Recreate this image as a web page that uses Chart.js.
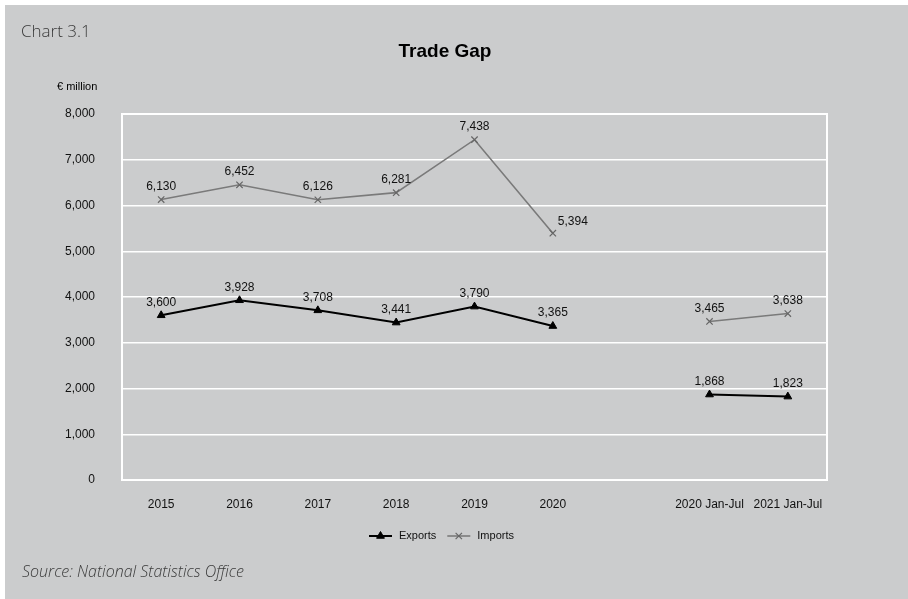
<!DOCTYPE html>
<html>
<head>
<meta charset="utf-8">
<title>Trade Gap</title>
<script src="https://cdn.jsdelivr.net/npm/chart.js@4/dist/chart.umd.min.js"></script>
<style>
  html, body { margin: 0; background: #cbcccd; overflow: hidden; }
  /* thin white edge along the top and left of the panel */
  .edge-top { position: absolute; left: 0; top: 0; width: 100%; height: 5px; background: #fff; }
  .edge-left { position: absolute; left: 0; top: 0; width: 5px; height: 100%; background: #fff; }
  #panel {
    position: absolute; left: 5px; top: 5px;
    width: 903px; height: 594px;
  }
  #chart { position: absolute; left: 0; top: 0; }
  .chart-no {
    position: absolute; left: 16px; top: 14px;
    font: 300 17px "Open Sans", sans-serif; color: #3a3a3a;
  }
  .source {
    position: absolute; left: 17px; top: 555px;
    font: italic 300 16px "Open Sans", sans-serif; color: #3a3a3a;
  }
</style>
</head>
<body>
<div class="edge-top"></div>
<div class="edge-left"></div>
<div id="panel">
  <canvas id="chart" width="903" height="594"></canvas>
  <div class="chart-no">Chart 3.1</div>
  <div class="source">Source: National Statistics Office</div>
</div>
<script>
// Categories (blank slot separates the full years from the Jan-Jul comparison)
const categories = ['2015', '2016', '2017', '2018', '2019', '2020', '', '2020 Jan-Jul', '2021 Jan-Jul'];

// € million
const exportsValues = [3600, 3928, 3708, 3441, 3790, 3365, null, 1868, 1823];
const importsValues = [6130, 6452, 6126, 6281, 7438, 5394, null, 3465, 3638];

const yTicks = [0, 1000, 2000, 3000, 4000, 5000, 6000, 7000, 8000];

const FONT = '"Liberation Sans", Arial, sans-serif';
const fmt = v => v.toLocaleString('en-US');

// white frame round the plot area
const plotFrame = {
  id: 'plotFrame',
  beforeDatasetsDraw(chart) {
    const { ctx, chartArea: a } = chart;
    ctx.save();
    ctx.strokeStyle = '#fff';
    ctx.lineWidth = 2;
    ctx.strokeRect(a.left, a.top, a.right - a.left, a.bottom - a.top);
    ctx.restore();
  }
};

// value labels above each point
const valueLabels = {
  id: 'valueLabels',
  afterDatasetsDraw(chart, args, opts) {
    const { ctx } = chart;
    ctx.save();
    ctx.font = '12px ' + FONT;
    ctx.fillStyle = '#111';
    chart.data.datasets.forEach((ds, di) => {
      const side = (opts.side && opts.side[di]) || {};
      chart.getDatasetMeta(di).data.forEach((pt, i) => {
        const v = ds.data[i];
        if (v == null) return;
        if (side[i] === 'right') {
          ctx.textAlign = 'left';
          ctx.textBaseline = 'middle';
          ctx.fillText(fmt(v), pt.x + 5, pt.y - 12);
        } else {
          ctx.textAlign = 'center';
          ctx.textBaseline = 'bottom';
          ctx.fillText(fmt(v), pt.x, pt.y - 7);
        }
      });
    });
    ctx.restore();
  }
};

// title, unit label and line-with-marker legend
const extras = {
  id: 'extras',
  afterDraw(chart) {
    const { ctx } = chart;
    ctx.save();
    ctx.fillStyle = '#000';
    ctx.font = 'bold 19px ' + FONT;
    ctx.textAlign = 'center';
    ctx.textBaseline = 'middle';
    ctx.fillText('Trade Gap', 440, 47);

    ctx.font = '11px ' + FONT;
    ctx.textAlign = 'left';
    ctx.fillText('€ million', 52, 82);

    let x = 364;
    const y = 531;
    chart.data.datasets.forEach(ds => {
      ctx.strokeStyle = ds.borderColor;
      ctx.lineWidth = ds.borderWidth;
      ctx.beginPath();
      ctx.moveTo(x, y);
      ctx.lineTo(x + 23, y);
      ctx.stroke();
      ctx.strokeStyle = ds.pointBorderColor;
      ctx.fillStyle = ds.pointBackgroundColor || ds.backgroundColor;
      ctx.lineWidth = ds.pointBorderWidth;
      Chart.helpers.drawPoint(ctx, {
        pointStyle: ds.pointStyle,
        radius: ds.pointRadius,
        borderWidth: ds.pointBorderWidth
      }, x + 11.5, y);
      ctx.fillStyle = '#111';
      ctx.font = '11px ' + FONT;
      ctx.fillText(ds.label, x + 30, y);
      x += 30 + ctx.measureText(ds.label).width + 11;
    });
    ctx.restore();
  }
};

new Chart(document.getElementById('chart'), {
  type: 'line',
  data: {
    labels: categories,
    datasets: [
      {
        label: 'Exports',
        data: exportsValues,
        borderColor: '#000',
        backgroundColor: '#000',
        borderWidth: 2,
        pointStyle: 'triangle',
        pointRadius: 4.5,
        pointBorderWidth: 1,
        pointBackgroundColor: '#000',
        pointBorderColor: '#000',
        spanGaps: false
      },
      {
        label: 'Imports',
        data: importsValues,
        borderColor: '#7a7a7a',
        backgroundColor: '#7a7a7a',
        borderWidth: 1.6,
        pointStyle: 'crossRot',
        pointRadius: 4.5,
        pointBorderWidth: 1.2,
        pointBorderColor: '#666',
        spanGaps: false
      }
    ]
  },
  options: {
    responsive: false,
    animation: false,
    layout: { padding: { top: 109, right: 81, left: 0, bottom: 0 } },
    plugins: {
      legend: { display: false },
      title: { display: false },
      tooltip: { enabled: false },
      valueLabels: { side: { 1: { 5: 'right' } } }
    },
    scales: {
      x: {
        offset: true,
        grid: { display: false, offset: true },
        border: { display: false },
        ticks: { color: '#111', font: { family: FONT, size: 12 }, padding: 9, maxRotation: 0, autoSkip: false },
        afterFit: s => { s.height = 119; }
      },
      y: {
        min: 0,
        max: 8000,
        afterBuildTicks: s => { s.ticks = yTicks.map(v => ({ value: v })); },
        grid: { color: '#fff', lineWidth: 1.5, drawTicks: false },
        border: { display: false },
        ticks: { color: '#111', font: { family: FONT, size: 12 }, padding: 27, callback: v => fmt(v) },
        afterFit: s => { s.width = 117; }
      }
    }
  },
  plugins: [plotFrame, valueLabels, extras]
});
</script>
</body>
</html>
